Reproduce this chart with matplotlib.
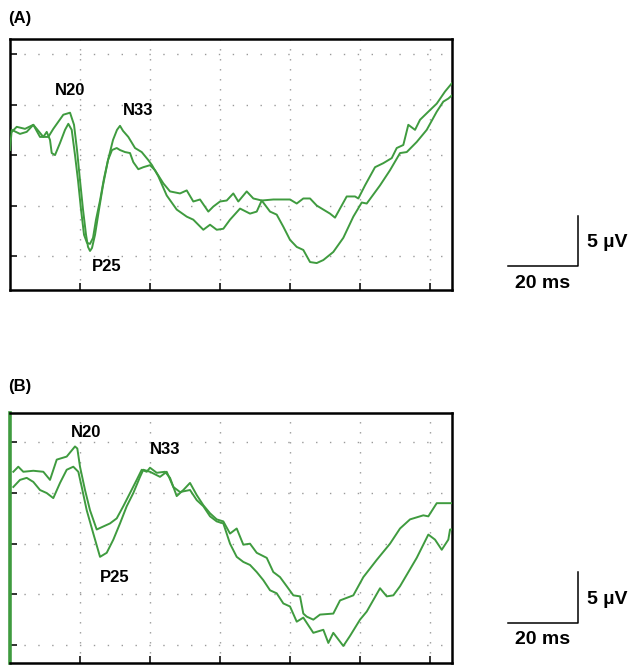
import matplotlib
matplotlib.use("Agg")
import matplotlib.pyplot as plt

plt.rcParams['font.family'] = ['Liberation Sans', 'DejaVu Sans']

# ---- panel A traces (time in ms, amplitude in uV) ----
a1_t = [0.14, 0.63, 3.0, 4.91, 6.8, 8.71, 11.09, 12.51, 15.37, 17.29, 18.43, 19.29, 20.14, 21.0,
        21.86, 22.43, 23.0, 23.57, 24.43, 25.57, 26.71, 28.14, 29.57, 30.71, 31.57, 32.43, 33.94,
        35.86, 37.77, 39.66, 40.71, 42.51, 44.91, 47.77, 50.63, 52.51, 55.37, 57.29, 59.2, 61.09,
        63.0, 65.86, 68.71, 70.63, 72.06, 74.43, 76.34, 78.23, 80.14, 82.06, 83.94, 85.86, 87.77,
        89.66, 92.51, 95.37, 98.23, 100.63, 102.06, 105.86, 108.71, 111.57, 113.49, 116.34, 119.2,
        122.06, 123.94, 125.37, 126.34]
a1_v = [10.5, 12.5, 12.1, 12.3, 13.0, 11.8, 11.8, 12.6, 14.0, 14.2, 13.0, 10.5, 7.5, 4.6,
        2.1, 0.9, 0.5, 0.8, 2.1, 4.6, 7.0, 9.5, 11.5, 12.5, 12.9, 12.4, 11.8,
        10.7, 10.3, 9.5, 9.0, 7.9, 6.0, 4.6, 3.9, 3.6, 2.6, 3.1, 2.6, 2.7,
        3.6, 4.7, 4.2, 4.4, 5.5, 4.4, 4.1, 2.9, 1.6, 0.9, 0.6, -0.6, -0.7,
        -0.4, 0.4, 1.8, 3.9, 5.3, 5.2, 7.0, 8.5, 10.2, 10.3, 11.3, 12.5,
        14.3, 15.3, 15.6, 15.9]

a2_t = [0.63, 2.06, 4.43, 6.8, 7.77, 9.66, 10.63, 11.57, 12.06, 13.0, 14.43, 15.86, 16.8, 17.77,
        18.71, 19.57, 20.43, 21.29, 22.14, 23.0, 23.86, 24.71, 25.86, 27.0, 28.14, 29.29, 30.63,
        31.57, 33.0, 34.43, 35.37, 36.8, 38.23, 40.14, 41.57, 43.94, 45.86, 48.71, 50.63, 52.51,
        54.43, 56.8, 58.23, 60.14, 62.06, 63.94, 65.37, 67.77, 69.66, 72.06, 75.37, 80.14, 82.06,
        83.94, 85.86, 87.77, 89.66, 91.57, 93.0, 94.43, 96.34, 98.71, 99.66, 101.57, 104.43, 106.8,
        109.2, 110.63, 112.51, 113.94, 115.86, 117.29, 119.66, 122.06, 124.43, 126.34]
a2_v = [12.3, 12.8, 12.6, 13.0, 12.6, 11.8, 12.3, 11.5, 10.2, 10.0, 11.2, 12.5, 13.1, 12.5,
        10.0, 7.5, 4.6, 2.1, 1.3, 1.2, 1.8, 3.6, 5.5, 7.7, 9.5, 10.5, 10.7,
        10.5, 10.3, 10.2, 9.3, 8.6, 8.8, 9.0, 8.5, 7.2, 6.4, 6.2, 6.5, 5.4,
        5.6, 4.4, 4.9, 5.4, 5.5, 6.2, 5.4, 6.4, 5.7, 5.5, 5.6, 5.6, 5.2,
        5.7, 5.7, 5.0, 4.6, 4.2, 3.8, 4.7, 5.9, 5.9, 5.7, 7.0, 8.8, 9.2,
        9.7, 10.7, 11.0, 13.0, 12.5, 13.5, 14.3, 15.1, 16.3, 17.1]

# ---- panel B traces ----
b1_t = [1.09, 2.51, 3.94, 6.8, 9.66, 11.57, 13.49, 16.34, 18.71, 19.37, 20.14, 21.57, 23.0, 24.91,
        26.8, 28.71, 30.63, 32.51, 34.43, 36.34, 37.77, 39.2, 40.14, 42.06, 44.43, 45.86, 47.77,
        49.66, 51.57, 53.49, 55.37, 57.29, 59.2, 61.09, 63.0, 64.91, 66.8, 68.71, 70.63, 73.49,
        75.37, 77.29, 79.2, 81.09, 83.0, 83.94, 84.91, 86.8, 88.71, 92.51, 94.43, 98.23, 101.09,
        104.91, 108.71, 111.57, 114.43, 118.23, 119.66, 122.06, 124.91, 126.8]
b1_v = [17.1, 17.6, 17.1, 17.2, 17.1, 16.3, 18.3, 18.6, 19.6, 19.4, 17.6, 15.3, 13.3, 11.4,
        11.7, 12.0, 12.5, 13.7, 15.0, 16.3, 17.3, 17.1, 17.5, 17.0, 17.1, 16.5, 14.7,
        15.3, 16.0, 14.8, 13.8, 13.0, 12.4, 12.2, 11.0, 11.5, 9.9, 10.0, 9.1, 8.6,
        7.2, 6.7, 5.8, 4.9, 4.8, 3.1, 2.8, 2.5, 3.0, 3.1, 4.4, 4.9, 6.7,
        8.4, 10.0, 11.5, 12.4, 12.8, 12.7, 14.0, 14.0, 14.0]

b2_t = [1.09, 3.0, 4.91, 6.8, 8.71, 10.63, 12.51, 14.43, 16.34, 18.23, 19.66, 20.63, 22.06, 23.94,
        25.86, 27.77, 29.66, 31.57, 33.49, 35.37, 37.29, 38.23, 40.14, 43.0, 44.91, 46.8, 48.71,
        51.57, 53.49, 55.37, 57.29, 59.2, 61.09, 63.0, 64.91, 66.8, 68.71, 70.63, 72.51, 74.43,
        76.34, 78.23, 80.14, 82.06, 83.94, 86.8, 89.66, 91.09, 92.51, 95.37, 97.29, 100.14, 102.06,
        105.86, 107.77, 109.66, 111.57, 116.34, 119.66, 121.57, 123.49, 125.37, 125.86, 126.8]
b2_v = [15.6, 16.3, 16.5, 16.1, 15.3, 15.0, 14.5, 16.0, 17.3, 17.6, 17.1, 15.6, 13.3, 11.0,
        8.7, 9.1, 10.4, 12.0, 13.7, 15.0, 16.6, 17.3, 17.1, 16.6, 17.1, 15.6, 15.1,
        15.3, 14.3, 13.7, 12.7, 12.2, 12.0, 10.0, 8.7, 8.2, 7.9, 7.2, 6.4, 5.4,
        5.1, 4.1, 3.8, 2.3, 2.7, 1.2, 1.5, 0.2, 1.2, -0.1, 0.9, 2.5, 3.3,
        5.6, 4.8, 4.9, 5.8, 8.6, 10.9, 10.4, 9.4, 10.4, 11.4, 11.4]

grid_ms = [20, 40, 60, 80, 100, 120]
grid_uv = [0, 5, 10, 15, 20]

# peak labels: (text, time, amplitude)
labels_a = [("N20", 17.3, 16.4), ("N33", 36.7, 14.4), ("P25", 27.7, -1.0)]
labels_b = [("N20", 21.9, 21.0), ("N33", 44.6, 19.3), ("P25", 30.1, 6.65)]

SCALE_MS = 20
SCALE_UV = 5

green = '#3f9b3f'

fig = plt.figure(figsize=(6.3, 6.65), dpi=100)
axA = fig.add_axes([0.0151, 0.5639, 0.7028, 0.3774])
axB = fig.add_axes([0.0151, 0.0030, 0.7028, 0.3759])


def setup(ax, ylim, traces, labels, bar_x, bar_y):
    ax.set_xlim(0, 126.5)
    ax.set_ylim(*ylim)
    for y in grid_uv:
        ax.axhline(y, color='#9a9a9a', lw=1.0, ls=(0, (1, 9)), zorder=1)
    for x in grid_ms:
        ax.axvline(x, color='#9a9a9a', lw=1.0, ls=(0, (1, 6.2)), zorder=1)
    for t, v in traces:
        ax.plot(t, v, color=green, lw=1.4, zorder=3)
    for txt, x, y in labels:
        ax.text(x, y, txt, ha='center', va='center', fontsize=12, fontweight='bold')
    ax.set_xticks(grid_ms)
    ax.set_yticks(grid_uv)
    ax.tick_params(direction='in', length=5, width=1.3, labelbottom=False, labelleft=False,
                   color='#222222')
    for s in ax.spines.values():
        s.set_linewidth(1.8)
    # scale bars drawn in data units
    ax.plot([bar_x, bar_x + SCALE_MS, bar_x + SCALE_MS], [bar_y, bar_y, bar_y + SCALE_UV],
            color='black', lw=1.1, clip_on=False)
    ax.text(bar_x + SCALE_MS + 2.5, bar_y + 2.3, "5 µV", ha='left', va='center',
            fontsize=14, fontweight='bold')
    ax.text(bar_x + SCALE_MS / 2, bar_y - 1.7, "20 ms", ha='center', va='center',
            fontsize=14, fontweight='bold')


setup(axA, (-3.37, 21.5), [(a1_t, a1_v), (a2_t, a2_v)], labels_a, 142.4, -1.0)
setup(axB, (-1.78, 22.9), [(b1_t, b1_v), (b2_t, b2_v)], labels_b, 142.4, 2.2)
axB.spines['left'].set_color(green)
axB.spines['left'].set_linewidth(2.6)

fig.text(0.013, 1 - 18 / 665, "(A)", ha='left', va='center', fontsize=12, fontweight='bold')
fig.text(0.013, 1 - 386 / 665, "(B)", ha='left', va='center', fontsize=12, fontweight='bold')

fig.savefig("out.png", dpi=100)
